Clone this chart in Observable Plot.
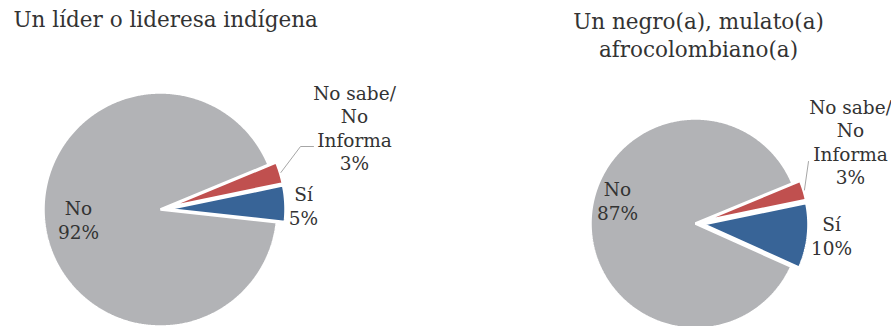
<!DOCTYPE html>
<html>
<head>
<meta charset="utf-8">
<script src="https://cdn.jsdelivr.net/npm/d3@7"></script>
<script src="https://cdn.jsdelivr.net/npm/@observablehq/plot@0.6"></script>
<style>
  html, body { margin: 0; padding: 0; background: #fff; }
  #chart svg { display: block; }
</style>
</head>
<body>
<div id="chart"></div>
<script>
// ---- Data ----
const categories = ["No sabe/\nNo\nInforma", "Sí", "No"];
const liderIndigena = [3, 5, 92];
const afrocolombiano = [3, 10, 87];
const titles = ["Un líder o lideresa indígena", "Un negro(a), mulato(a)\nafrocolombiano(a)"];

// ---- Styles / layout ----
const palette = ["#c0504f", "#386497", "#b2b3b6"];
const textColor = "#333333";
const FONT = "DejaVu Serif";
const START = 67.5 * Math.PI / 180;   // compass bearing of first slice, clockwise
const EXPLODE = 8;

const pies = [
  {values: liderIndigena, cx: 160, cy: 209, r: 117,
   title: {x: 13, y: 20, anchor: "start"},
   labels: [{x: 354, y: 127}, {x: 303, y: 205}, {x: 78, y: 219}],
   leader: [[300, 146], [313, 146]]},
  {values: afrocolombiano, cx: 695, cy: 223, r: 105,
   title: {x: 698, y: 34, anchor: "middle"},
   labels: [{x: 850, y: 141}, {x: 831, y: 235}, {x: 617, y: 200}],
   leader: [[808, 161]]}
];

const sliceRows = [];
const labelRows = [];
const leaderRows = [];
const titleRows = [];

pies.forEach((pie, pi) => {
  const total = d3.sum(pie.values);
  let a = START;
  pie.values.forEach((v, i) => {
    const a0 = a, a1 = a + v / total * 2 * Math.PI;
    a = a1;
    const mid = (a0 + a1) / 2;
    const off = i < 2 ? EXPLODE : 0;
    const ox = pie.cx + off * Math.sin(mid), oy = pie.cy - off * Math.cos(mid);
    const id = pi + "-" + i, cat = categories[i];
    sliceRows.push({id, cat, order: i, x: ox, y: oy});
    const n = Math.max(2, Math.ceil((a1 - a0) / (Math.PI / 360)));
    for (let k = 0; k <= n; k++) {
      const t = a0 + (a1 - a0) * k / n;
      sliceRows.push({id, cat, order: i, x: ox + pie.r * Math.sin(t), y: oy - pie.r * Math.cos(t)});
    }
    labelRows.push({x: pie.labels[i].x, y: pie.labels[i].y, text: cat + "\n" + v + "%"});
    if (i === 0) {
      const sx = ox + (pie.r + 1) * Math.sin(mid), sy = oy - (pie.r + 1) * Math.cos(mid);
      leaderRows.push({id: pi, x: sx, y: sy});
      pie.leader.forEach(([x, y]) => leaderRows.push({id: pi, x, y}));
    }
  });
  titleRows.push({x: pie.title.x, y: pie.title.y, anchor: pie.title.anchor, text: titles[pi]});
});

// draw grey slice first, coloured ones above
sliceRows.sort((a, b) => d3.descending(a.order, b.order));

const chart = Plot.plot({
  width: 891,
  height: 326,
  margin: 0,
  x: {domain: [0, 891], range: [0, 891], axis: null},
  y: {domain: [0, 326], range: [0, 326], axis: null},
  color: {domain: categories, range: palette},
  style: {fontFamily: FONT, background: "#fff"},
  marks: [
    Plot.line(sliceRows, {x: "x", y: "y", z: "id", fill: "cat", stroke: "white", strokeWidth: 2.5,
      strokeLinejoin: "miter", curve: "linear-closed"}),
    Plot.line(leaderRows, {x: "x", y: "y", z: "id", stroke: "#a6a6a6", strokeWidth: 1}),
    Plot.text(labelRows, {x: "x", y: "y", text: "text", fontSize: 18.5, lineHeight: 1.26,
      textAnchor: "middle", lineAnchor: "middle", fill: textColor, fontFamily: FONT}),
    Plot.text(titleRows.filter(d => d.anchor === "start"), {x: "x", y: "y", text: "text", fontSize: 21.5,
      textAnchor: "start", lineAnchor: "middle", fill: textColor, fontFamily: FONT}),
    Plot.text(titleRows.filter(d => d.anchor === "middle"), {x: "x", y: "y", text: "text", fontSize: 21.5,
      lineHeight: 1.3, textAnchor: "middle", lineAnchor: "middle", fill: textColor, fontFamily: FONT})
  ]
});
document.getElementById("chart").appendChild(chart);
</script>
</body>
</html>
